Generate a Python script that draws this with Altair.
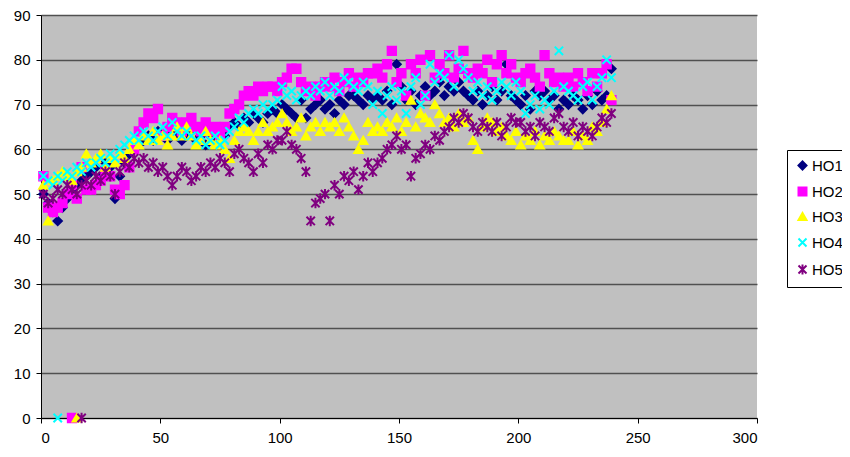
import altair as alt
import pandas as pd

series_names = ["HO1", "HO2", "HO3", "HO4", "HO5"]
series_colors = ["#000080", "#FF00FF", "#FFFF00", "#00FFFF", "#800080"]

x_vals = list(range(1, 241, 2))

ho1 = [50, 48, 46, 44, 47, 49, 51, 52, 53, 54,
       55, 56, 54, 57, 56, 49, 54, 57, 59, 60,
       61, 62, 63, 62, 64, 63, 62, 64, 63, 62,
       63, 64, 62, 63, 61, 63, 62, 64, 63, 65,
       66, 65, 67, 66, 68, 67, 66, 68, 69, 68,
       70, 69, 68, 67, 71, 67, 69, 70, 71, 69,
       70, 68, 71, 70, 72, 72, 71, 70, 72, 71,
       72, 71, 73, 70, 79, 74, 71, 73, 70, 72,
       74, 72, 73, 75, 72, 74, 73, 75, 73, 72,
       71, 73, 70, 72, 74, 71, 73, 79, 72, 71,
       70, 72, 69, 73, 72, 73, 71, 72, 69, 71,
       70, 72, 71, 69, 72, 70, 73, 71, 72, 78]

ho2 = [54, 47, 46, 47, 48, 50, 52, 49, 56, 51,
       51, 52, 53, 55, 54, 51, 50, 52, 56, 60,
       64, 66, 68, 67, 69, 63, 65, 67, 66, 64,
       66, 67, 65, 64, 66, 64, 65, 63, 65, 68,
       69, 70, 72, 73, 72, 74, 73, 74, 74, 73,
       75, 76, 78, 78, 75, 73, 74, 72, 74, 75,
       74, 76, 73, 75, 77, 74, 76, 75, 77, 77,
       78, 76, 79, 82, 75, 77, 72, 79, 77, 80,
       72, 81, 76, 79, 77, 81, 76, 78, 82, 77,
       76, 78, 77, 80, 75, 79, 81, 77, 79, 76,
       75, 77, 78, 76, 74, 81, 77, 75, 76, 74,
       76, 74, 77, 75, 73, 77, 74, 77, 79, 71]

ho3 = [52, 44, 53, 54, 55, 54, 53, 55, 56, 59,
       57, 58, 59, 56, 58, 57, 59, 58, 60, 62,
       61, 63, 62, 64, 62, 63, 61, 63, 65, 63,
       65, 63, 61, 62, 64, 62, 61, 62, 60, 58,
       62, 64, 65, 64, 62, 64, 66, 64, 65, 66,
       68, 66, 64, 65, 67, 63, 65, 66, 64, 66,
       65, 66, 64, 67, 65, 63, 60, 62, 66, 64,
       65, 64, 66, 65, 67, 64, 66, 71, 65, 68,
       67, 66, 70, 68, 66, 67, 65, 68, 66, 67,
       62, 60, 65, 67, 66, 64, 65, 63, 62, 64,
       61, 63, 62, 64, 61, 63, 62, 64, 63, 62,
       62, 64, 61, 63, 62, 65, 64, 66, 69, 72]

ho4 = [54, 53, 52, 54, 53, 55, 54, 56, 55, 57,
       56, 57, 58, 57, 59, 58, 60, 61, 62, 63,
       62, 64, 63, 62, 64, 65, 63, 66, 64, 63,
       64, 63, 62, 63, 61, 62, 63, 61, 62, 64,
       65, 67, 66, 68, 69, 68, 70, 69, 70, 71,
       74, 72, 73, 71, 72, 73, 72, 74, 73, 75,
       72, 74, 73, 76, 75, 74, 73, 75, 74, 70,
       73, 68, 72, 74, 71, 73, 68, 74, 76, 70,
       72, 79, 75, 77, 76, 81, 74, 80, 78, 76,
       73, 75, 72, 74, 71, 73, 75, 74, 72, 75,
       73, 68, 70, 72, 69, 71, 70, 73, 82, 74,
       73, 72, 71, 74, 75, 71, 74, 76, 80, 76]

ho5 = [50, 48, 49, 51, 50, 52, 51, 50, 52, 53,
       52, 54, 53, 55, 54, 50, 55, 57, 56, 58,
       57, 58, 56, 57, 55, 56, 54, 52, 54, 56,
       55, 53, 54, 56, 55, 57, 56, 58, 57, 55,
       59, 60, 58, 57, 55, 59, 57, 61, 60, 62,
       62, 64, 61, 60, 58, 55, 44, 48, 49, 50,
       44, 52, 50, 54, 53, 55, 51, 54, 57, 55,
       57, 58, 60, 61, 63, 60, 61, 54, 58, 59,
       61, 60, 63, 62, 64, 65, 67, 66, 68, 67,
       65, 64, 66, 65, 64, 66, 63, 65, 67, 66,
       66, 64, 65, 63, 66, 65, 64, 67, 68, 65,
       64, 66, 63, 65, 64, 63, 65, 67, 66, 68]

# isolated zero readings near the start
zero_x = {"HO2": 13, "HO3": 15, "HO4": 7, "HO5": 17}

series_values = {"HO1": ho1, "HO2": ho2, "HO3": ho3, "HO4": ho4, "HO5": ho5}

rows = []
for name in series_names:
    for xv, yv in zip(x_vals, series_values[name]):
        rows.append({"x": xv, "y": yv, "series": name})
    if name in zero_x:
        rows.append({"x": zero_x[name], "y": 0, "series": name})
df = pd.DataFrame(rows)

X_PATH = "M-1,-1L1,1M1,-1L-1,1"
AST_PATH = "M-1,-1L1,1M1,-1L-1,1M0,-1.25L0,1.25"

FONT = "Liberation Sans"

legend = alt.Legend(
    title=None, orient="none", legendX=746, legendY=135,
    fillColor="white", strokeColor="black", padding=8,
    labelFont=FONT, labelFontSize=15, labelColor="black", labelOffset=2,
    rowPadding=9, symbolSize=64, symbolStrokeWidth=2,
)

chart = alt.Chart(df).mark_point(filled=True, size=70, strokeWidth=2, opacity=1).encode(
    x=alt.X("x:Q", scale=alt.Scale(domain=[0, 300], nice=False),
            axis=alt.Axis(values=[0, 50, 100, 150, 200, 250, 300], grid=False, title=None,
                          tickSize=5, tickColor="black", domainColor="black",
                          labelFont=FONT, labelFontSize=15, labelColor="black",
                          labelPadding=7)),
    y=alt.Y("y:Q", scale=alt.Scale(domain=[0, 90], nice=False),
            axis=alt.Axis(values=list(range(0, 91, 10)), grid=True, gridColor="#505050",
                          gridWidth=1.5, title=None, tickSize=5, tickColor="black",
                          domainColor="black", labelFont=FONT, labelFontSize=15,
                          labelColor="black", labelPadding=6)),
    fill=alt.Fill("series:N", scale=alt.Scale(domain=series_names,
                  range=["#000080", "#FF00FF", "#FFFF00", "transparent", "transparent"]),
                  legend=legend),
    stroke=alt.Stroke("series:N", scale=alt.Scale(domain=series_names, range=series_colors),
                      legend=legend),
    shape=alt.Shape("series:N", scale=alt.Scale(domain=series_names,
                    range=["diamond", "square", "triangle-up", X_PATH, AST_PATH]),
                    legend=legend),
).properties(
    width=716, height=403,
    background="white",
    autosize=alt.AutoSizeParams(type="none"),
    padding={"left": 33, "top": 7, "right": 85, "bottom": 29},
).configure_view(
    fill="#C0C0C0", strokeWidth=0
)

chart.save("out.html", embed_options={"renderer": "svg", "actions": False})
